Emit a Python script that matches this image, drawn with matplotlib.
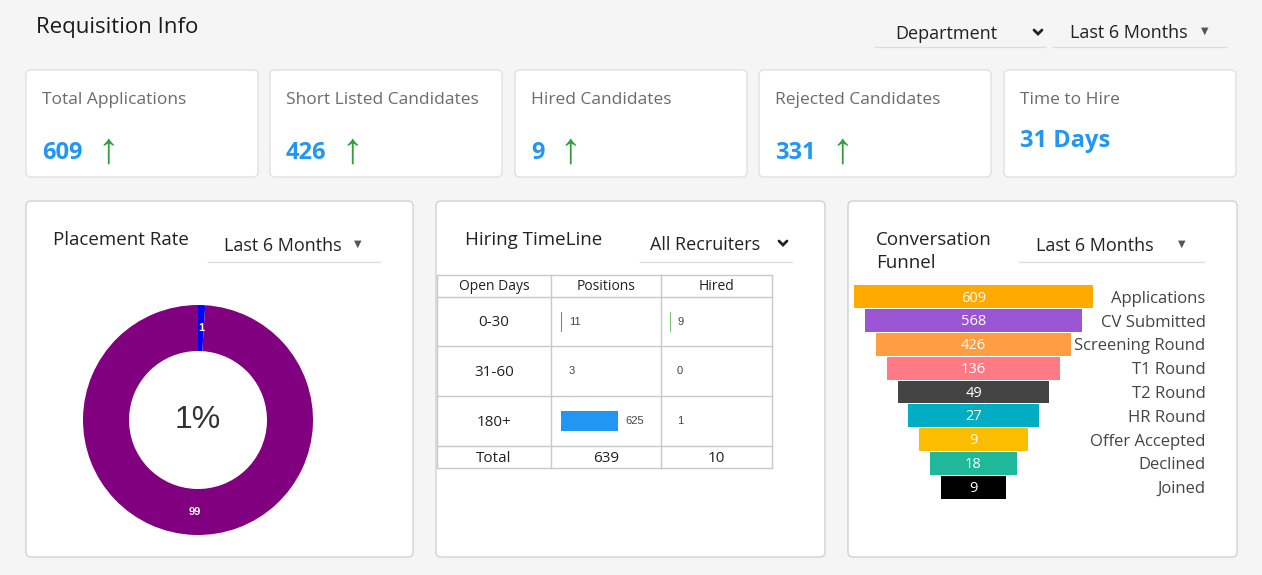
import numpy as np
import matplotlib.pyplot as plt
from matplotlib.patches import FancyBboxPatch

plt.rcParams['font.family'] = ['Open Sans', 'DejaVu Sans']

W, H = 1262, 575

# KPI cards
kpi_labels = ['Total Applications', 'Short Listed Candidates', 'Hired Candidates',
              'Rejected Candidates', 'Time to Hire']
kpi_values = ['609', '426', '9', '331', '31 Days']
kpi_up = [True, True, True, True, False]

# Placement rate donut
placement = [1, 99]
placement_colors = ['#0000ff', '#800080']

# Hiring timeline table
open_days = ['0-30', '31-60', '180+']
positions = [11, 3, 625]
hired = [9, 0, 1]

# Conversation funnel
stages = ['Applications', 'CV Submitted', 'Screening Round', 'T1 Round', 'T2 Round',
          'HR Round', 'Offer Accepted', 'Declined', 'Joined']
stage_counts = [609, 568, 426, 136, 49, 27, 9, 18, 9]
stage_colors = ['#ffaa00', '#9b55d4', '#ff9d42', '#ff7a84', '#444444',
                '#00adc2', '#fbbd00', '#1fb89a', '#000000']

fig = plt.figure(figsize=(W / 100, H / 100), dpi=100, facecolor='#f5f5f5')
bg = fig.add_axes([0, 0, 1, 1])
bg.set_xlim(0, W)
bg.set_ylim(H, 0)
bg.axis('off')


def px_axes(x, y, w, h):
    a = fig.add_axes([x / W, 1 - (y + h) / H, w / W, h / H])
    a.patch.set_visible(False)
    return a


def label(x, y, s, **kw):
    # Open Sans sits a little high when centred, nudge it down
    return bg.text(x, y + 2, s, ha=kw.pop('ha', 'left'), va='center', **kw)


def card(x, y, w, h, ec='#e0e0e0'):
    bg.add_patch(FancyBboxPatch((x, y), w, h, boxstyle='round,pad=0,rounding_size=5',
                                fc='white', ec=ec, lw=1))


def dropdown(tx, y, text, cx, lx0, lx1, ly, chevron=False):
    label(tx, y, text, fontsize=13, color='#222222')
    if chevron:
        bg.plot([cx - 4, cx, cx + 4], [y - 2, y + 2, y - 2], color='#222222', lw=2,
                solid_capstyle='round', solid_joinstyle='miter')
    else:
        bg.text(cx, y, '\u25BC', ha='center', va='center', fontsize=7,
                color='#555555', family='DejaVu Sans')
    bg.plot([lx0, lx1], [ly, ly], color='#dddddd', lw=1)


# header
label(36, 26, 'Requisition Info', fontsize=16, color='#1a1a1a')
dropdown(895, 32, 'Department', 1038, 875, 1045, 47, chevron=True)
dropdown(1070, 31, 'Last 6 Months', 1205, 1053, 1226, 47)

# KPI cards
card_x = [26, 270, 515, 759, 1004]
for x0, lab, val, up in zip(card_x, kpi_labels, kpi_values, kpi_up):
    card(x0, 70, 232, 107)
    label(x0 + 16, 98, lab, fontsize=12.5, color='#6b6b6b')
    vy = 151 if up else 139
    t = label(x0 + 16, vy, val, fontsize=17, fontweight='bold', color='#2196f3')
    if up:
        bg.annotate('\u2191', xy=(1, 0.5), xycoords=t, xytext=(11, 1),
                    textcoords='offset points', ha='left', va='center',
                    fontsize=31, color='#2e9e3e',
                    family=['Liberation Sans', 'DejaVu Sans'])

# bottom panels
card(26, 201, 387, 356, ec='#d2d2d2')
card(436, 201, 389, 356, ec='#d2d2d2')
card(848, 201, 389, 356, ec='#d2d2d2')

# Placement Rate
label(53, 238, 'Placement Rate', fontsize=13.5, color='#222222')
dropdown(224, 244, 'Last 6 Months', 358, 208, 380, 262)

ax_d = px_axes(198 - 120, 420 - 120, 240, 240)
ax_d.pie(placement, colors=placement_colors, startangle=90, counterclock=False,
         wedgeprops=dict(width=0.4), labels=[str(v) for v in placement],
         labeldistance=0.8,
         textprops=dict(color='white', fontsize=8, fontweight='bold',
                        family='Liberation Sans', ha='center', va='center'))
ax_d.set_xlim(-1.0435, 1.0435)
ax_d.set_ylim(-1.0435, 1.0435)
ax_d.set_aspect('equal')
ax_d.text(0, 0, '%d%%' % placement[0], ha='center', va='center', fontsize=23,
          color='#333333', family='Liberation Sans')

# Hiring TimeLine
label(465, 238, 'Hiring TimeLine', fontsize=13.5, color='#222222')
dropdown(650, 243, 'All Recruiters', 783, 640, 792, 262, chevron=True)

col_x = [437, 551, 661, 772]
row_y = [275, 297, 346, 396, 446, 468]
for cx in col_x:
    bg.plot([cx, cx], [row_y[0], row_y[-1]], color='#c8c8c8', lw=1)
for ry in row_y:
    bg.plot([col_x[0], col_x[-1]], [ry, ry], color='#c8c8c8', lw=1)

headers = ['Open Days', 'Positions', 'Hired']
for i, hd in enumerate(headers):
    label((col_x[i] + col_x[i + 1]) / 2, (row_y[0] + row_y[1]) / 2 - 1, hd,
          ha='center', fontsize=10, color='#222222')
for i, od in enumerate(open_days):
    label((col_x[0] + col_x[1]) / 2, (row_y[i + 1] + row_y[i + 2]) / 2 - 1, od,
          ha='center', fontsize=11, color='#222222')
totals = ['Total', str(sum(positions)), str(sum(hired))]
for i, tt in enumerate(totals):
    label((col_x[i] + col_x[i + 1]) / 2, (row_y[4] + row_y[5]) / 2, tt,
          ha='center', fontsize=11, color='#222222')

scale_max = max(positions) * 100 / 57.0
for vals, color, x_left in [(positions, '#2196f3', 561), (hired, '#7cc576', 670)]:
    ax_b = px_axes(x_left, row_y[1], 100, row_y[4] - row_y[1])
    ax_b.barh(range(len(vals)), vals, height=0.39, color=color)
    ax_b.set_xlim(0, scale_max)
    ax_b.set_ylim(len(vals) - 0.5, -0.5)
    ax_b.axis('off')
    for i, v in enumerate(vals):
        ax_b.annotate(str(v), (v, i), xytext=(5, 0), textcoords='offset points',
                      ha='left', va='center', fontsize=8, color='#444444',
                      family='Liberation Sans')

# Conversation Funnel
label(876, 238, 'Conversation', fontsize=13.5, color='#222222')
label(876, 261, 'Funnel', fontsize=13.5, color='#222222')
dropdown(1036, 244, 'Last 6 Months', 1182, 1019, 1204, 262)

ax_f = px_axes(854, 285, 239, 214)
n = len(stages)
frac = 1 - 0.0911 * np.arange(n)
ypos = np.arange(n)
ax_f.barh(ypos, frac, left=-frac / 2, height=0.96, color=stage_colors)
for i, c in enumerate(stage_counts):
    ax_f.text(0, i + 0.05, str(c), ha='center', va='center', fontsize=10.5, color='white')
ax_f.set_xlim(-0.5, 0.5)
ax_f.set_ylim(n - 0.5, -0.5)
for s in ax_f.spines.values():
    s.set_visible(False)
ax_f.set_xticks([])
ax_f.yaxis.tick_right()
ax_f.set_yticks(ypos)
ax_f.set_yticklabels(stages)
ax_f.tick_params(axis='y', length=0, pad=81, labelsize=12, labelcolor='#444444')
for lbl in ax_f.get_yticklabels():
    lbl.set_ha('right')

plt.savefig('out.png', dpi=100, facecolor=fig.get_facecolor())
